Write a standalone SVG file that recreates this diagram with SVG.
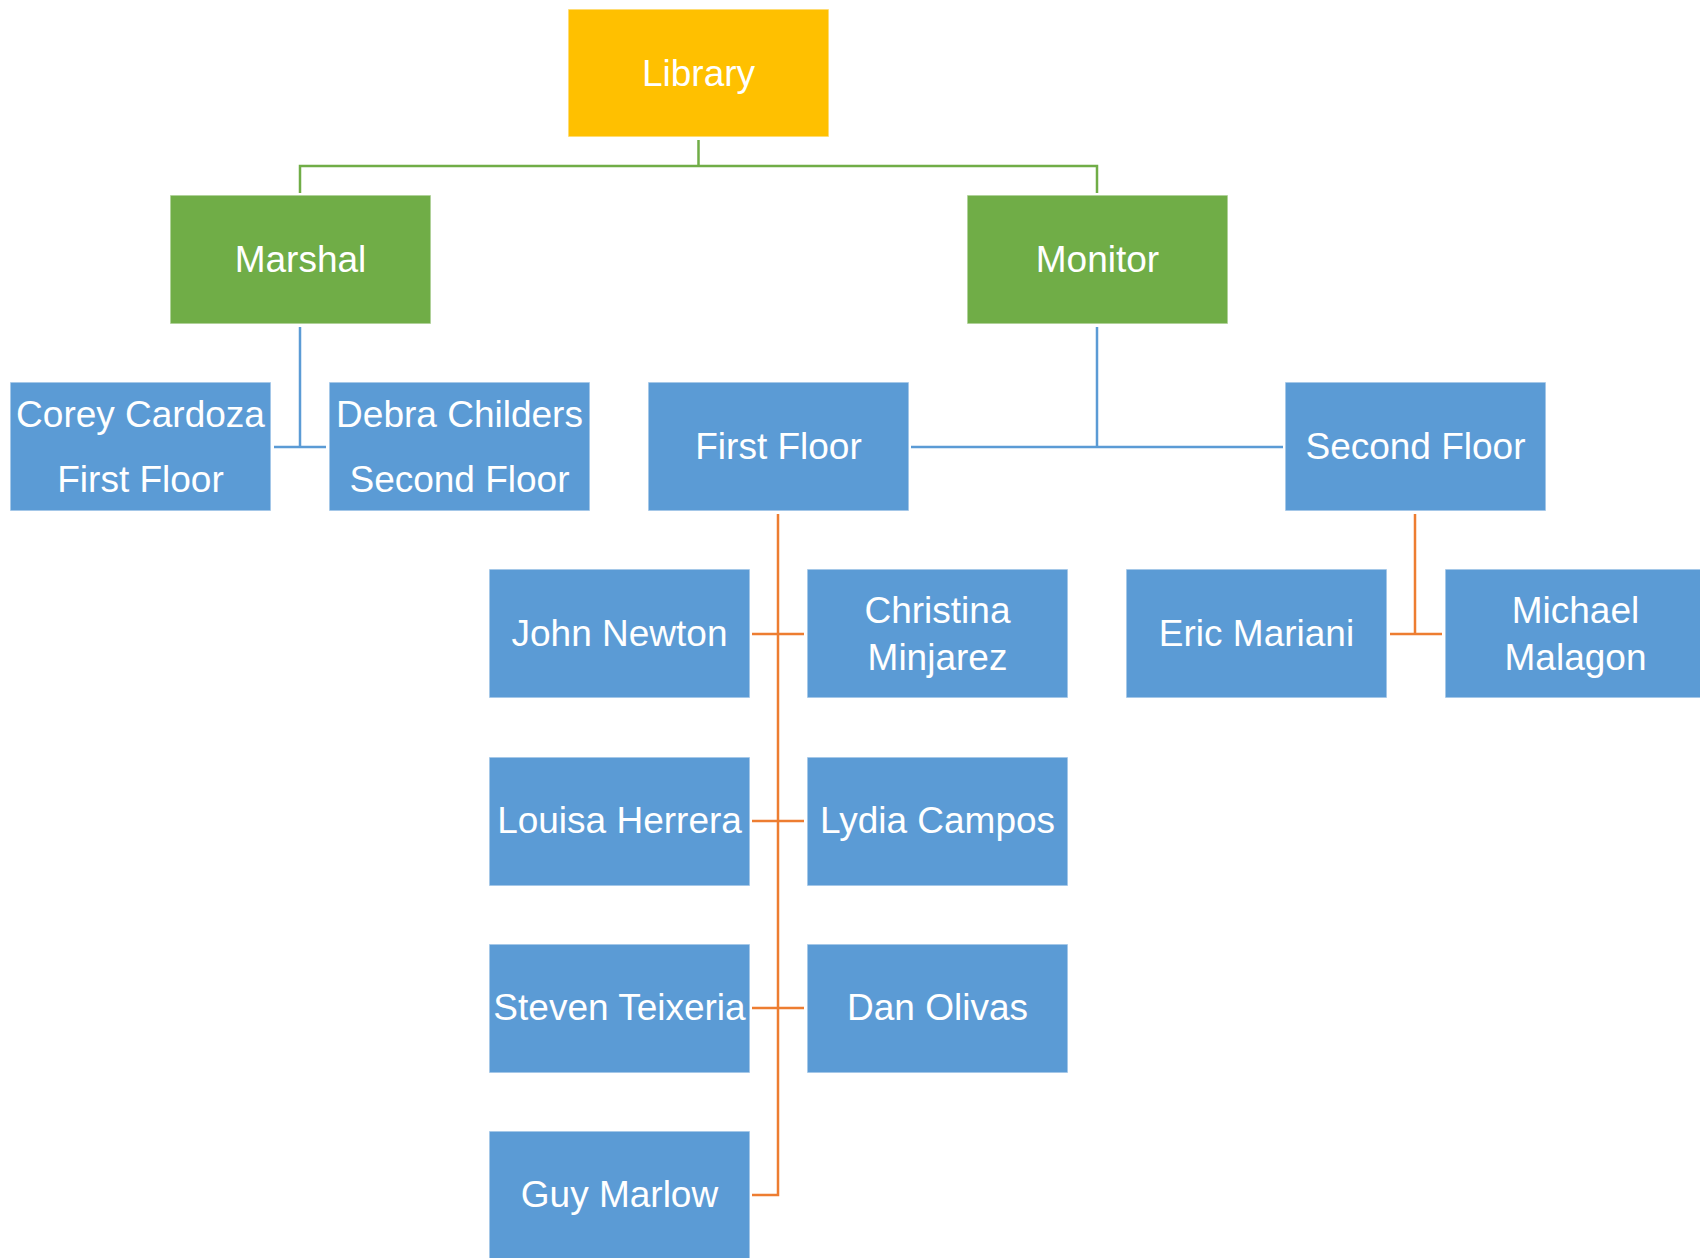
<svg xmlns="http://www.w3.org/2000/svg" width="1700" height="1258" viewBox="0 0 1700 1258">
<style>
.box{stroke:#ffffff;stroke-opacity:0.6;stroke-width:1.5}
.gold{fill:#FFC000}
.green{fill:#70AD47}
.blue{fill:#5B9BD5}
text{font-family:"Liberation Sans",Arial,sans-serif;font-size:37px;fill:#ffffff;text-anchor:middle}
.cg{stroke:#70AD47;stroke-width:2.5;fill:none}
.cb{stroke:#5B9BD5;stroke-width:2.5;fill:none}
.co{stroke:#ED7D31;stroke-width:2.5;fill:none}
</style>
<rect width="1700" height="1258" fill="#ffffff"/>
<g id="connectors">
<path class="cg" d="M698.5,140 V166 M300,193 V166 H1097 V193"/>
<path class="cb" d="M300,327 V447 M274,447 H326"/>
<path class="cb" d="M1097,327 V447 M911,447 H1283"/>
<path class="co" d="M778,514 V1195 H752 M752,634 H804 M752,821 H804 M752,1008 H804"/>
<path class="co" d="M1415,514 V634 M1390,634 H1442"/>
</g>
<g id="library"><rect class="box gold" x="568" y="9" width="261" height="128"/><text x="698.5" y="86">Library</text></g>
<g id="marshal"><rect class="box green" x="170" y="195" width="261" height="129"/><text x="300.5" y="272">Marshal</text></g>
<g id="monitor"><rect class="box green" x="967" y="195" width="261" height="129"/><text x="1097.5" y="272">Monitor</text></g>
<g id="corey"><rect class="box blue" x="10" y="382" width="261" height="129"/><text x="140.5" y="427">Corey Cardoza</text><text x="140.5" y="492">First Floor</text></g>
<g id="debra"><rect class="box blue" x="329" y="382" width="261" height="129"/><text x="459.5" y="427">Debra Childers</text><text x="459.5" y="492">Second Floor</text></g>
<g id="first-floor"><rect class="box blue" x="648" y="382" width="261" height="129"/><text x="778.5" y="459">First Floor</text></g>
<g id="second-floor"><rect class="box blue" x="1285" y="382" width="261" height="129"/><text x="1415.5" y="459">Second Floor</text></g>
<g id="john"><rect class="box blue" x="489" y="569" width="261" height="129"/><text x="619.5" y="646">John Newton</text></g>
<g id="christina"><rect class="box blue" x="807" y="569" width="261" height="129"/><text x="937.5" y="623">Christina</text><text x="937.5" y="670">Minjarez</text></g>
<g id="eric"><rect class="box blue" x="1126" y="569" width="261" height="129"/><text x="1256.5" y="646">Eric Mariani</text></g>
<g id="michael"><rect class="box blue" x="1445" y="569" width="261" height="129"/><text x="1575.5" y="623">Michael</text><text x="1575.5" y="670">Malagon</text></g>
<g id="louisa"><rect class="box blue" x="489" y="757" width="261" height="129"/><text x="619.5" y="833">Louisa Herrera</text></g>
<g id="lydia"><rect class="box blue" x="807" y="757" width="261" height="129"/><text x="937.5" y="833">Lydia Campos</text></g>
<g id="steven"><rect class="box blue" x="489" y="944" width="261" height="129"/><text x="619.5" y="1020">Steven Teixeria</text></g>
<g id="dan"><rect class="box blue" x="807" y="944" width="261" height="129"/><text x="937.5" y="1020">Dan Olivas</text></g>
<g id="guy"><rect class="box blue" x="489" y="1131" width="261" height="129"/><text x="619.5" y="1207">Guy Marlow</text></g>
</svg>
